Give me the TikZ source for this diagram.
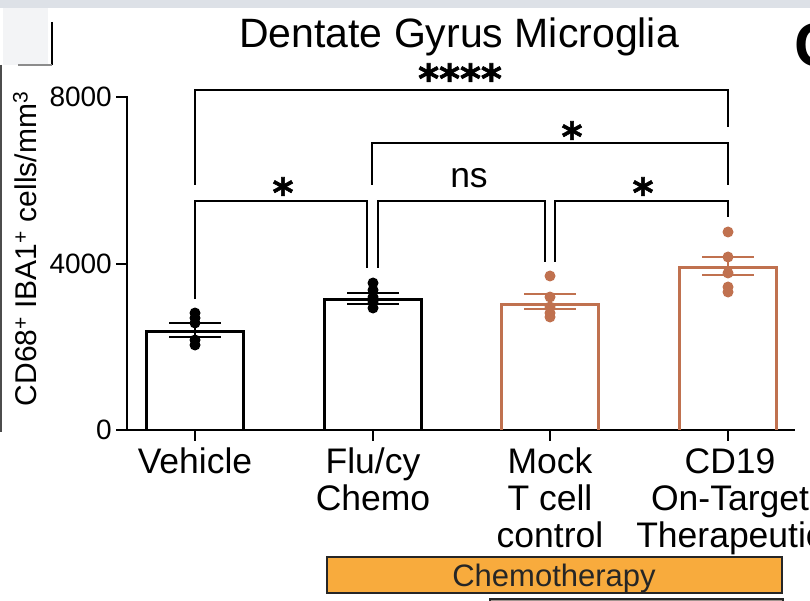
\documentclass[tikz,border=0pt]{standalone}
\usepackage{fontspec}
\setmainfont{Liberation Sans}
\newfontfamily\starfont[FakeBold=1.6]{DejaVu Sans Bold}
\usetikzlibrary{positioning}

\definecolor{cart}{HTML}{C0714F}
\definecolor{chemo}{HTML}{F8AB3D}
\definecolor{lymph}{HTML}{A2948F}
\definecolor{band}{HTML}{DDE1E7}
\definecolor{paper}{HTML}{F3F4F6}

\begin{document}
\begin{tikzpicture}[x=1pt, y=-1pt,
  axis/.style={line width=2.5pt},
  barbox/.style={line width=3pt},
  sig/.style={line width=2.6pt},
  stars/.style={font=\starfont\fontsize{40}{40}\selectfont, inner sep=0pt, anchor=base},
  group/.style={font=\fontsize{35.5}{37}\selectfont, align=center, inner sep=0pt, anchor=base},
  tick/.style={font=\fontsize{28}{28}\selectfont, inner sep=0pt, anchor=east}]
  \useasboundingbox (0,0) rectangle (810,601);
  \fill[white] (0,0) rectangle (810,601);

  % cut-off bits of the neighbouring panels
  \fill[band] (0,0) rectangle (810,8);
  \fill[paper] (3,8) rectangle (48,65);
  \draw[line width=2pt] (52,22) -- (52,65);
  \draw[black!45, line width=1.5pt] (18,65) -- (52,65);
  \draw[black!70, line width=1.5pt] (1,65) -- (1,432);
  \node[font=\bfseries\fontsize{62}{62}\selectfont, anchor=base west, inner sep=0pt] (panelC) at (794,67) {C};

  \node[font=\fontsize{41}{41}\selectfont, anchor=base, inner sep=0pt] (title) at (459,48) {Dentate Gyrus Microglia};

  % axes
  \draw[axis] (116,97) -- (127,97) -- (127,430) -- (795,430);
  \draw[axis] (116,264) -- (127,264);
  \draw[axis] (116,430) -- (127,430);
  \foreach \gx in {195,373,550,728}
    \draw[axis] (\gx,430) -- (\gx,441);
  \node[tick] (t8) at (112,97) {8000};
  \node[tick] (t4) at (112,264) {4000};
  \node[tick] (t0) at (112,430) {0};
  \node[rotate=90, font=\fontsize{30}{30}\selectfont, inner sep=0pt] (ylab) at (25,249)
    {CD68\textsuperscript{+} IBA1\textsuperscript{+} cells/mm\textsuperscript{3}};

  % bars, error bars and animals
  \foreach \gx/\top/\elo/\ehi/\col/\pts in {
      195/331/323/337/black/{313,318,323,340,345},
      373/299/293/304/black/{283,290,297,302,308},
      550/304/294/309/cart/{276,297,307,313,317},
      728/268/257/275/cart/{232,257,273,287,292}} {
    \draw[barbox, color=\col] (\gx-48.5,430) |- (\gx+48.5,\top) -- (\gx+48.5,430);
    \draw[line width=2.5pt, color=\col] (\gx-26,\elo) -- (\gx+26,\elo)
      (\gx-26,\ehi) -- (\gx+26,\ehi) (\gx,\elo) -- (\gx,\ehi);
    \foreach \p in \pts
      \fill[color=\col] (\gx,\p) circle (5.5);
  }

  % significance brackets
  \foreach \xa/\ya/\xb/\yb/\yt in {195/185/728/127/90, 372/185/728/185/143,
      195/299/367/268/201, 378/268/545/262/201, 555/262/728/217/201}
    \draw[sig] (\xa,\ya) |- (\xb,\yt) -- (\xb,\yb);
  \node[stars] (p4) at (460,93) {****};
  \node[stars] (p1) at (283,207) {*};
  \node[stars] (p2) at (572,151) {*};
  \node[stars] (p3) at (643,207) {*};
  \node[font=\fontsize{35.5}{35.5}\selectfont, anchor=base, inner sep=0pt] (ns) at (469,188) {ns};

  % group names (base = last line)
  \node[group] (veh) at (195,473) {Vehicle};
  \node[group] (flu) at (373,510) {Flu/cy\\Chemo};
  \node[group] (mock) at (550,547) {Mock\\T cell\\control};
  \node[group] (cd19) at (730,547) {CD19\\On-Target\\Therapeutic};

  % treatment bars
  \node[draw=black!85, line width=2pt, fill=chemo, minimum width=455pt, minimum height=36pt,
    text depth=0pt, font=\fontsize{31}{31}\selectfont, text=black!85] (chemobar) at (554,575) {Chemotherapy};
  \node[draw=black!85, line width=2pt, fill=lymph, minimum width=293pt, minimum height=20pt,
    anchor=north west] (lymphbar) at (489,598) {};
\end{tikzpicture}
\end{document}
